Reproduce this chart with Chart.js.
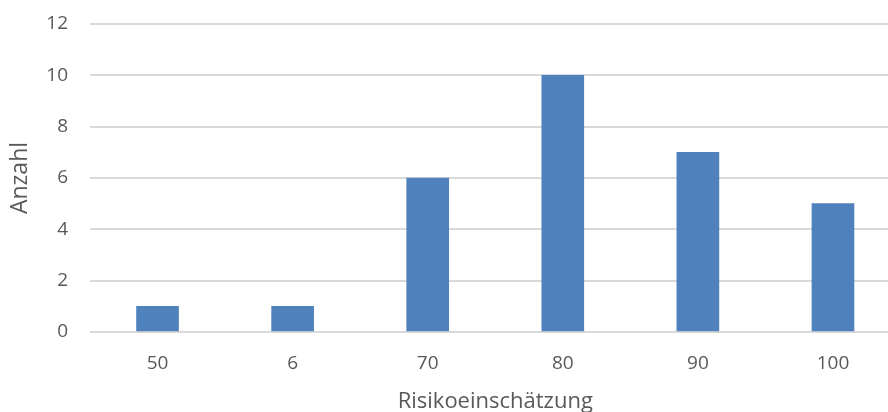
<!DOCTYPE html>
<html>
<head>
<meta charset="utf-8">
<script src="https://cdn.jsdelivr.net/npm/chart.js@4"></script>
<style>
    html, body { margin: 0; padding: 0; background: #fff; overflow: hidden; }
    #wrap { width: 920px; height: 430px; position: relative; }
</style>
</head>
<body>
<div id="wrap"><canvas id="riskChart"></canvas></div>
<script>
const categories = ['50', '6', '70', '80', '90', '100'];
const counts = [1, 1, 6, 10, 7, 5];
const yTicks = [0, 2, 4, 6, 8, 10, 12];

const textColor = '#595959';
const fontFamily = '"Open Sans", Lato, sans-serif';

document.addEventListener('DOMContentLoaded', () => {
    const ctx = document.getElementById('riskChart').getContext('2d');
    new Chart(ctx, {
        type: 'bar',
        data: {
            labels: categories,
            datasets: [{
                label: 'Anzahl',
                data: counts,
                backgroundColor: '#4F81BD',
                borderWidth: 0,
                barThickness: 42
            }]
        },
        options: {
            responsive: true,
            maintainAspectRatio: false,
            animation: false,
            layout: { padding: { top: 24, right: 19.5, left: 0, bottom: 0 } },
            plugins: {
                legend: { display: false },
                tooltip: { enabled: false }
            },
            scales: {
                x: {
                    grid: { display: false, drawTicks: false },
                    border: { display: false },
                    ticks: {
                        color: textColor,
                        font: { family: fontFamily, size: 19 },
                        padding: 20,
                        maxRotation: 0
                    },
                    title: {
                        display: true,
                        text: 'Risikoeinschätzung',
                        color: textColor,
                        font: { family: fontFamily, size: 22 },
                        padding: { top: 0, bottom: 15 }
                    },
                    afterFit: scale => {
                        scale.height = 98;
                        scale.paddingLeft = 0;
                        scale.paddingRight = 0;
                    }
                },
                y: {
                    min: 0,
                    max: 12,
                    afterBuildTicks: scale => {
                        scale.ticks = yTicks.map(v => ({ value: v }));
                    },
                    grid: { color: '#D9D9D9', lineWidth: 2, drawTicks: false },
                    border: { display: false },
                    ticks: {
                        color: textColor,
                        font: { family: fontFamily, size: 19 },
                        padding: 22
                    },
                    title: {
                        display: true,
                        text: 'Anzahl',
                        color: textColor,
                        font: { family: fontFamily, size: 23 },
                        padding: { top: 7, bottom: 0 }
                    },
                    afterFit: scale => {
                        scale.width = 90;
                        scale.paddingTop = 0;
                        scale.paddingBottom = 0;
                    }
                }
            }
        }
    });
});
</script>
</body>
</html>
